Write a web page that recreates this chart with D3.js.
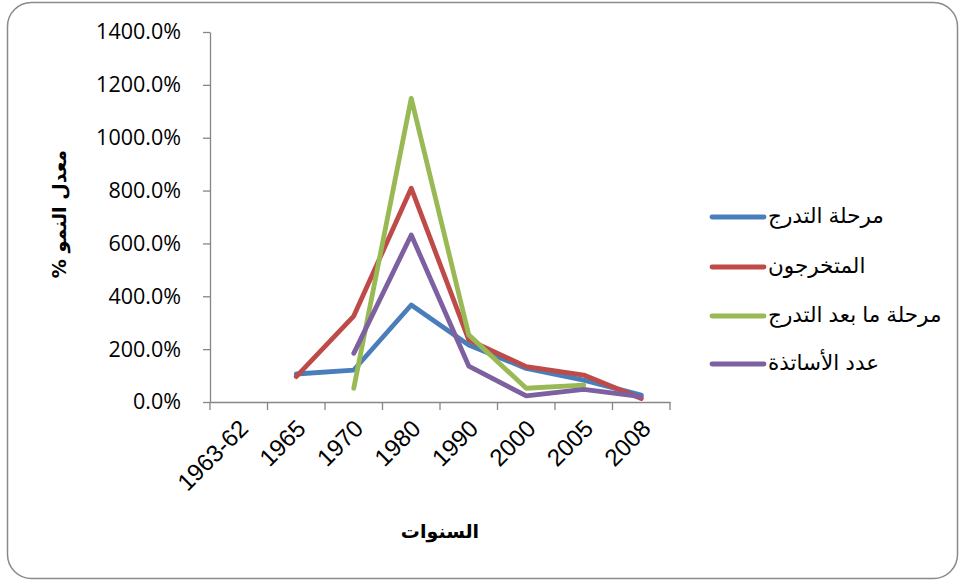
<!DOCTYPE html>
<html>
<head>
<meta charset="utf-8">
<script src="https://cdn.jsdelivr.net/npm/d3@7"></script>
<style>
  html, body { margin: 0; padding: 0; background: #fff; }
  svg { display: block; }
</style>
</head>
<body>
<svg id="chart" width="960" height="581"></svg>
<script>
const categories = ["1963-62", "1965", "1970", "1980", "1990", "2000", "2005", "2008"];
const seriesNames = ["مرحلة التدرج", "المتخرجون", "مرحلة ما بعد التدرج", "عدد الأساتذة"];
const seriesColors = ["#4A7EBB", "#BE4B48", "#98B954", "#7D60A0"];
const undergrad = [null, 1.06, 1.21, 3.67, 2.16, 1.27, 0.83, 0.26];
const graduates = [null, 0.96, 3.25, 8.09, 2.35, 1.34, 1.02, 0.13];
const postgrad = [null, null, 0.52, 11.49, 2.54, 0.52, 0.64, null];
const professors = [null, null, 1.84, 6.32, 1.36, 0.23, 0.48, 0.20];
const yTicks = [0, 2, 4, 6, 8, 10, 12, 14];
const yTitle = "معدل النمو %";
const xTitle = "السنوات";

const seriesValues = [undergrad, graduates, postgrad, professors];

const svg = d3.select("#chart");
const plot = { left: 210, right: 670, top: 32, bottom: 402 };
const axisColor = "#868686";

// chart border
svg.append("rect")
  .attr("x", 7.5).attr("y", 2.5)
  .attr("width", 950).attr("height", 576)
  .attr("rx", 24).attr("ry", 24)
  .attr("fill", "#fff")
  .attr("stroke", "#8a8a8a").attr("stroke-width", 1.5);

const x = d3.scaleBand().domain(categories).range([plot.left, plot.right]).paddingInner(0).paddingOuter(0);
const y = d3.scaleLinear().domain([0, 14]).range([plot.bottom, plot.top]);

// Y axis
const yAxis = svg.append("g").attr("transform", `translate(${plot.left},0)`)
  .call(d3.axisLeft(y).tickValues(yTicks).tickFormat(d3.format(".1%")).tickSize(7).tickSizeOuter(0));
yAxis.select(".domain").attr("stroke", axisColor).attr("stroke-width", 1.3);
yAxis.selectAll(".tick line").attr("stroke", axisColor).attr("stroke-width", 1.3);
yAxis.selectAll(".tick text")
  .attr("x", -29)
  .attr("fill", "#000")
  .style("font-family", "'Open Sans', 'Liberation Sans', sans-serif")
  .style("font-size", "21.5px");

// X axis
const xAxis = svg.append("g").attr("transform", `translate(0,${plot.bottom})`)
  .call(d3.axisBottom(x).tickSize(0).tickSizeOuter(0));
xAxis.select(".domain").attr("stroke", axisColor).attr("stroke-width", 1.3);
const boundaries = categories.map(c => x(c)).concat([x.range()[1]]);
xAxis.selectAll(".bound").data(boundaries).enter().append("line")
  .attr("class", "bound")
  .attr("x1", d => d).attr("x2", d => d)
  .attr("y1", 0).attr("y2", 8)
  .attr("stroke", axisColor).attr("stroke-width", 1.3);
xAxis.selectAll(".tick text")
  .attr("fill", "#000")
  .style("font-family", "'Liberation Sans', Arial, sans-serif")
  .style("font-size", "24px")
  .attr("text-anchor", "end")
  .attr("dy", "0.35em")
  .attr("y", 0)
  .attr("transform", "translate(5,22) rotate(-45)");

// lines
const line = d3.line()
  .defined(d => d.v !== null)
  .x(d => x(d.c) + x.bandwidth() / 2)
  .y(d => y(d.v));

seriesValues.forEach((vals, i) => {
  const data = categories.map((c, j) => ({ c, v: vals[j] }));
  svg.append("path")
    .datum(data)
    .attr("d", line)
    .attr("fill", "none")
    .attr("stroke", seriesColors[i])
    .attr("stroke-width", 4.8)
    .attr("stroke-linejoin", "round")
    .attr("stroke-linecap", "round");
});

// legend
const legendY = [217, 267, 316, 364];
const legend = svg.append("g");
seriesNames.forEach((name, i) => {
  legend.append("line")
    .attr("x1", 712).attr("x2", 764)
    .attr("y1", legendY[i]).attr("y2", legendY[i])
    .attr("stroke", seriesColors[i]).attr("stroke-width", 4.8)
    .attr("stroke-linecap", "round");
  legend.append("text")
    .attr("x", 768).attr("y", legendY[i])
    .attr("dy", "0.3em")
    .attr("text-anchor", "start")
    .style("font-family", "'Liberation Sans', 'DejaVu Sans', sans-serif")
    .style("font-size", "21.5px")
    .attr("fill", "#000")
    .text(name);
});

// axis titles
svg.append("text")
  .attr("transform", "translate(59,214) rotate(-90)")
  .attr("text-anchor", "middle")
  .attr("direction", "rtl")
  .attr("dy", "0.35em")
  .style("font-family", "'DejaVu Sans', sans-serif")
  .style("font-weight", "bold")
  .style("font-size", "19px")
  .text(yTitle);

svg.append("text")
  .attr("x", 440).attr("y", 531)
  .attr("text-anchor", "middle")
  .attr("direction", "rtl")
  .attr("dy", "0.35em")
  .style("font-family", "'DejaVu Sans', sans-serif")
  .style("font-weight", "bold")
  .style("font-size", "19px")
  .text(xTitle);
</script>
</body>
</html>
